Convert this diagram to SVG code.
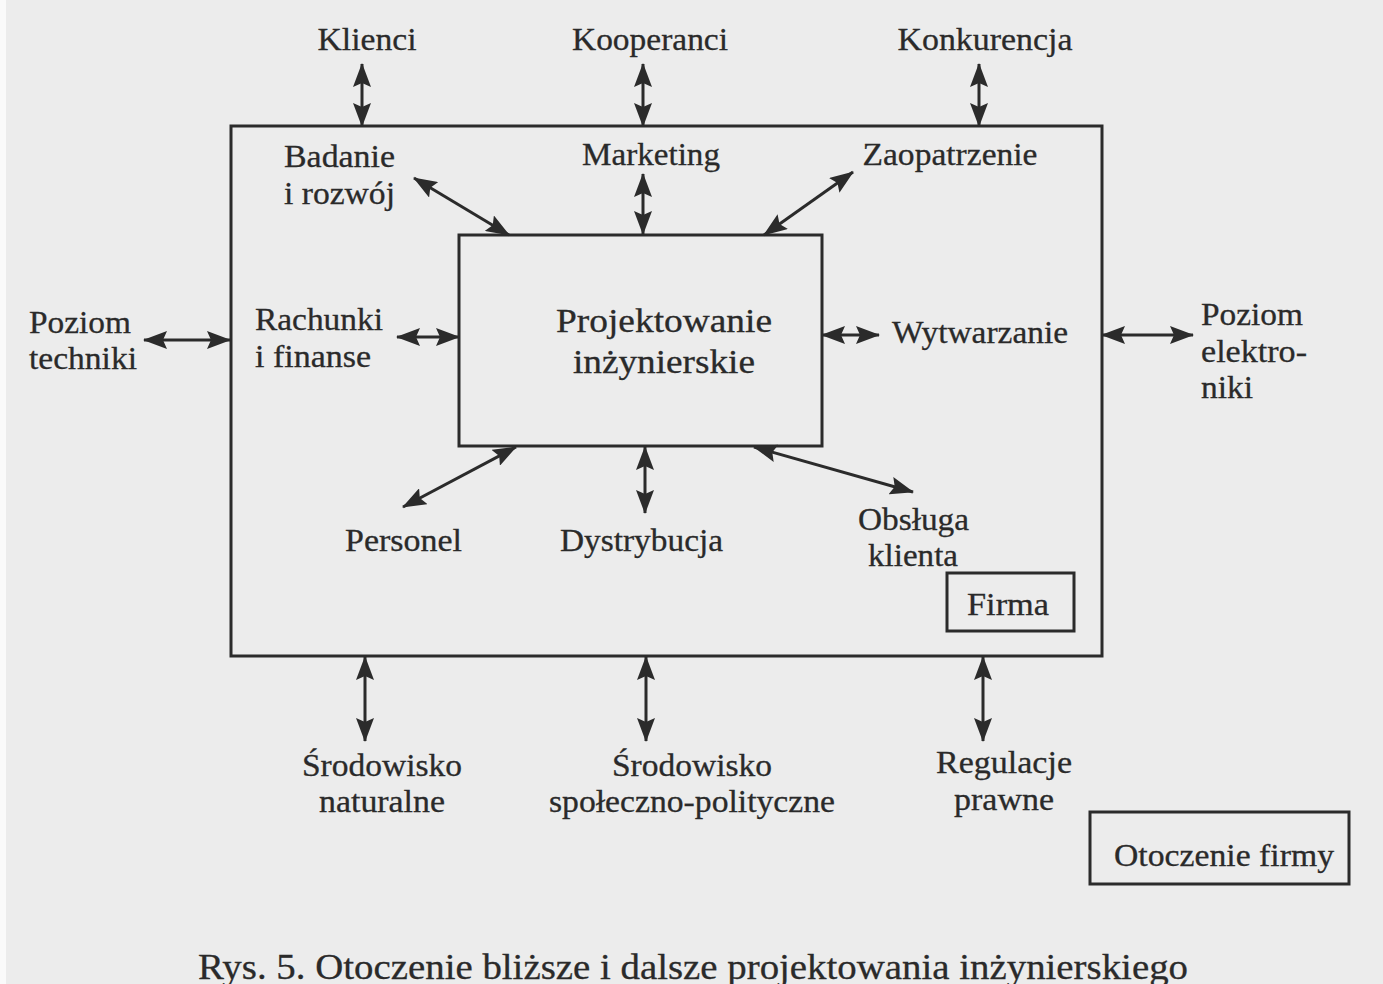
<svg xmlns="http://www.w3.org/2000/svg" width="1383" height="984" viewBox="0 0 1383 984">
<defs>
<style>
.box{fill:none;stroke:#2b2b2b;stroke-width:3}
.c{stroke:#2b2b2b;stroke-width:3;fill:none;marker-start:url(#ah);marker-end:url(#ah)}
.m{text-anchor:middle}
</style>
<marker id="ah" viewBox="0 0 24 18" refX="23" refY="9" markerWidth="24" markerHeight="18" markerUnits="userSpaceOnUse" orient="auto-start-reverse">
<path d="M0,0 L24,9 L0,18 L4,9 Z" fill="#2b2b2b"/>
</marker>
</defs>
<rect x="0" y="0" width="1383" height="984" fill="#ececec"/>
<rect x="0" y="0" width="6" height="984" fill="#fafafa"/>

<g font-family="'Liberation Serif', 'Times New Roman', serif" font-size="32" fill="#2a2a2a" stroke="#2a2a2a" stroke-width="0.3">
<g id="firma">
<rect class="box" x="231" y="126" width="871" height="530"/>
</g>
<g id="projektowanie">
<rect class="box" x="459" y="235" width="363" height="211"/>
<text class="m" x="664" y="332" font-size="33" textLength="216" lengthAdjust="spacingAndGlyphs">Projektowanie</text>
<text class="m" x="664" y="373" font-size="33" textLength="182" lengthAdjust="spacingAndGlyphs">inżynierskie</text>
</g>
<g id="firma-label">
<rect class="box" x="947" y="573" width="127" height="58"/>
<text class="m" x="1008" y="615" textLength="82" lengthAdjust="spacingAndGlyphs">Firma</text>
</g>
<g id="otoczenie-label">
<rect class="box" x="1090" y="812" width="259" height="72"/>
<text class="m" x="1224" y="866" textLength="220" lengthAdjust="spacingAndGlyphs">Otoczenie firmy</text>
</g>

<g id="klienci"><text class="m" x="367" y="50" textLength="99" lengthAdjust="spacingAndGlyphs">Klienci</text></g>
<g id="kooperanci"><text class="m" x="650" y="50" textLength="156" lengthAdjust="spacingAndGlyphs">Kooperanci</text></g>
<g id="konkurencja"><text class="m" x="985" y="50" textLength="175" lengthAdjust="spacingAndGlyphs">Konkurencja</text></g>
<g id="badanie">
<text x="284" y="167" textLength="111" lengthAdjust="spacingAndGlyphs">Badanie</text>
<text x="284" y="204" textLength="111" lengthAdjust="spacingAndGlyphs">i rozwój</text>
</g>
<g id="marketing"><text class="m" x="651" y="165" textLength="138" lengthAdjust="spacingAndGlyphs">Marketing</text></g>
<g id="zaopatrzenie"><text class="m" x="950" y="165" textLength="175" lengthAdjust="spacingAndGlyphs">Zaopatrzenie</text></g>
<g id="rachunki">
<text x="255" y="330" textLength="128" lengthAdjust="spacingAndGlyphs">Rachunki</text>
<text x="255" y="367" textLength="116" lengthAdjust="spacingAndGlyphs">i finanse</text>
</g>
<g id="wytwarzanie"><text x="892" y="343" textLength="176" lengthAdjust="spacingAndGlyphs">Wytwarzanie</text></g>
<g id="poziom-techniki">
<text x="29" y="333" textLength="102" lengthAdjust="spacingAndGlyphs">Poziom</text>
<text x="29" y="369" textLength="108" lengthAdjust="spacingAndGlyphs">techniki</text>
</g>
<g id="poziom-elektroniki">
<text x="1201" y="325" textLength="102" lengthAdjust="spacingAndGlyphs">Poziom</text>
<text x="1201" y="362" textLength="106" lengthAdjust="spacingAndGlyphs">elektro-</text>
<text x="1201" y="398" textLength="52" lengthAdjust="spacingAndGlyphs">niki</text>
</g>
<g id="personel"><text x="345" y="551" textLength="117" lengthAdjust="spacingAndGlyphs">Personel</text></g>
<g id="dystrybucja"><text x="560" y="551" textLength="163" lengthAdjust="spacingAndGlyphs">Dystrybucja</text></g>
<g id="obsluga">
<text x="858" y="530" textLength="111" lengthAdjust="spacingAndGlyphs">Obsługa</text>
<text x="868" y="566" textLength="90" lengthAdjust="spacingAndGlyphs">klienta</text>
</g>
<g id="srodowisko-naturalne">
<text class="m" x="382" y="776" textLength="160" lengthAdjust="spacingAndGlyphs">Środowisko</text>
<text class="m" x="382" y="812" textLength="126" lengthAdjust="spacingAndGlyphs">naturalne</text>
</g>
<g id="srodowisko-spol">
<text class="m" x="692" y="776" textLength="160" lengthAdjust="spacingAndGlyphs">Środowisko</text>
<text class="m" x="692" y="812" textLength="286" lengthAdjust="spacingAndGlyphs">społeczno-polityczne</text>
</g>
<g id="regulacje">
<text class="m" x="1004" y="773" textLength="136" lengthAdjust="spacingAndGlyphs">Regulacje</text>
<text class="m" x="1004" y="810" textLength="100" lengthAdjust="spacingAndGlyphs">prawne</text>
</g>

<text x="198" y="979" font-size="36" textLength="990" lengthAdjust="spacingAndGlyphs">Rys. 5. Otoczenie bliższe i dalsze projektowania inżynierskiego</text>
</g>

<g id="connectors">
<line class="c" x1="362" y1="64" x2="362" y2="126"/>
<line class="c" x1="643" y1="64" x2="643" y2="126"/>
<line class="c" x1="979" y1="64" x2="979" y2="126"/>
<line class="c" x1="643" y1="174" x2="643" y2="234"/>
<line class="c" x1="414" y1="178" x2="509" y2="235"/>
<line class="c" x1="853" y1="172" x2="764" y2="235"/>
<line class="c" x1="397" y1="337" x2="459" y2="337"/>
<line class="c" x1="822" y1="335" x2="879" y2="335"/>
<line class="c" x1="144" y1="340" x2="230" y2="340"/>
<line class="c" x1="1102" y1="335" x2="1193" y2="335"/>
<line class="c" x1="403" y1="507" x2="516" y2="447"/>
<line class="c" x1="645" y1="447" x2="645" y2="513"/>
<line class="c" x1="754" y1="447" x2="913" y2="492"/>
<line class="c" x1="365" y1="657" x2="365" y2="741"/>
<line class="c" x1="646" y1="657" x2="646" y2="741"/>
<line class="c" x1="983" y1="657" x2="983" y2="741"/>
</g>
</svg>
